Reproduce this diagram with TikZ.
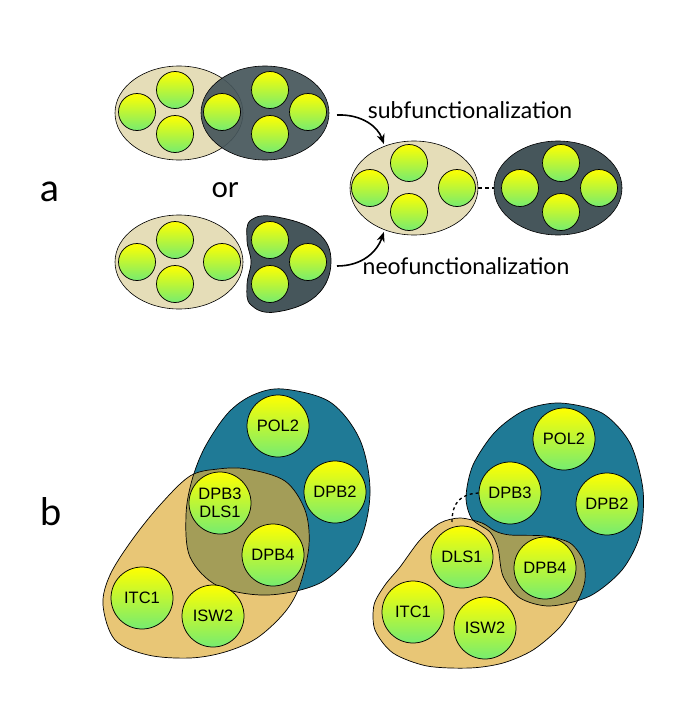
\documentclass[tikz,border=0pt]{standalone}
\usepackage{fontspec}
\setmainfont{Lato}
\newfontfamily\geneFont{Liberation Sans}
\usepackage{tikz}
\usetikzlibrary{shapes.geometric, arrows.meta}
\definecolor{beigeColor}{RGB}{229,221,184}
\definecolor{slateColor}{RGB}{70,86,91}
\definecolor{tealColor}{RGB}{31,122,150}
\definecolor{sandColor}{RGB}{232,198,118}
\definecolor{oliveColor}{RGB}{163,157,88}
\definecolor{geneTop}{RGB}{255,255,0}
\definecolor{geneBottom}{RGB}{118,236,112}

% outlines of the complexes in panel b
\newcommand{\tealLeft}{plot[smooth cycle, tension=0.55] coordinates {(283,389) (330,402) (360,440) (370,493) (358,545) (322,582) (268,595) (218,586) (190,557) (186,515) (192,480) (205,447) (228,413) (253,395)}}
\newcommand{\sandLeft}{plot[smooth cycle, tension=0.55] coordinates {(247,469) (285,481) (305,510) (309,545) (300,585) (285,612) (257,638) (225,652) (190,658) (148,655) (115,640) (103,605) (110,575) (132,540) (160,505) (190,476) (218,469)}}
\newcommand{\tealRight}{plot[smooth cycle, tension=0.5] coordinates {(560,403) (602,413) (630,443) (643,490) (640,535) (622,570) (590,596) (550,606) (520,598) (503,576) (498,548) (490,532) (472,519) (466,497) (473,465) (495,432) (525,410)}}
\newcommand{\sandRight}{plot[smooth cycle, tension=0.5] coordinates {(460,518) (482,523) (495,531) (510,535) (545,536) (570,543) (583,560) (585,580) (578,600) (560,627) (533,650) (503,663) (470,668) (427,666) (393,653) (375,630) (374,605) (385,585) (400,567) (420,540) (440,523)}}

\begin{document}
\begin{tikzpicture}[x=1pt, y=-1pt,
    gene/.style={circle, draw=black, line width=0.75pt, top color=geneTop, bottom color=geneBottom, minimum size=37pt, inner sep=0pt},
    protein/.style={gene, minimum size=62pt, font=\geneFont\fontsize{16.5}{18}\selectfont, align=center},
    paralog/.style={ellipse, draw=black, line width=0.6pt, minimum width=128pt, minimum height=94pt, inner sep=0pt},
    outline/.style={draw=black, line width=0.7pt},
    line/.style={draw=black, -{Stealth[length=10pt, width=8pt]}, line width=1.6pt, shorten >=2pt},
    link/.style={draw=black, line width=1.4pt, dash pattern=on 4pt off 3pt},
    panel/.style={font=\fontsize{38}{40}\selectfont}
]
\fill[white] (0,0) rectangle (685,728);
\useasboundingbox (0,0) rectangle (685,728);

% Panel a
\node (labelA) [panel] at (50,192) {a};
\node (sharedA) [paralog, fill=beigeColor] at (179,113) {};
\node (sharedB) [paralog, fill=slateColor, fill opacity=0.92] at (265,113) {};
\node (or) [font=\fontsize{29}{31}\selectfont] at (225,190) {or};
\node (splitA) [paralog, fill=beigeColor] at (179,262) {};
\filldraw[outline, fill=slateColor] plot[smooth cycle, tension=0.7] coordinates {(277,217) (317,232) (331,262) (316,296) (276,312) (251,305) (247,285) (251,262) (247,240) (251,220)};
\node (subA) [paralog, fill=beigeColor] at (414,188) {};
\node (subB) [paralog, fill=slateColor] at (558,188) {};

\node (sa1) [gene] at (137,112) {};
\node (sa2) [gene] at (175,90) {};
\node (sa3) [gene] at (175,134) {};
\node (sa4) [gene] at (222,112) {};
\node (sb1) [gene] at (270,90) {};
\node (sb2) [gene] at (270,134) {};
\node (sb3) [gene] at (308,112) {};

\node (na1) [gene] at (137,262) {};
\node (na2) [gene] at (175,240) {};
\node (na3) [gene] at (175,284) {};
\node (na4) [gene] at (222,262) {};
\node (nb1) [gene] at (270,240) {};
\node (nb2) [gene] at (308,262) {};
\node (nb3) [gene] at (270,284) {};

\node (ua1) [gene] at (370,188) {};
\node (ua2) [gene] at (409,163) {};
\node (ua3) [gene] at (409,212) {};
\node (ua4) [gene] at (457,188) {};
\node (ub1) [gene] at (520,188) {};
\node (ub2) [gene] at (561,163) {};
\node (ub3) [gene] at (561,212) {};
\node (ub4) [gene] at (599,188) {};

\node (subLabel) [font=\fontsize{23}{25}\selectfont] at (470,110) {subfunctionalization};
\node (neoLabel) [font=\fontsize{23}{25}\selectfont] at (466,266) {neofunctionalization};

\coordinate (subStart) at (337,115);
\coordinate (neoStart) at (337,266);
\draw[line] (subStart) .. controls (362,114) and (378,127) .. (subA.125);
\draw[line] (neoStart) .. controls (362,266) and (377,252) .. (subA.235);
\draw[link] (subA.east) -- (subB.west);

% Panel b
\node (labelB) [panel] at (51,512) {b};

\fill[tealColor] \tealLeft;
\fill[sandColor] \sandLeft;
\begin{scope}
  \clip \tealLeft;
  \fill[oliveColor] \sandLeft;
\end{scope}
\draw[outline] \tealLeft;
\draw[outline] \sandLeft;

\fill[tealColor] \tealRight;
\fill[sandColor] \sandRight;
\begin{scope}
  \clip \tealRight;
  \fill[oliveColor] \sandRight;
\end{scope}
\draw[outline] \tealRight;
\draw[outline] \sandRight;

\node (pol2L) [protein] at (278,426) {POL2};
\node (dpb2L) [protein] at (335,492) {DPB2};
\node (dpb3L) [protein] at (220,503) {DPB3\\DLS1};
\node (dpb4L) [protein] at (273,555) {DPB4};
\node (itc1L) [protein] at (142,598) {ITC1};
\node (isw2L) [protein] at (213,616) {ISW2};

\node (pol2R) [protein] at (564,439) {POL2};
\node (dpb3R) [protein] at (510,493) {DPB3};
\node (dpb2R) [protein] at (607,504) {DPB2};
\node (dls1R) [protein] at (462,557) {DLS1};
\node (dpb4R) [protein] at (545,568) {DPB4};
\node (itc1R) [protein] at (413,612) {ITC1};
\node (isw2R) [protein] at (485,628) {ISW2};

\coordinate (dlsTop) at (452,522);
\draw[dashed, line width=1.3pt] (dpb3R.west) .. controls (460,494) and (452,503) .. (dlsTop);

\end{tikzpicture}
\end{document}
